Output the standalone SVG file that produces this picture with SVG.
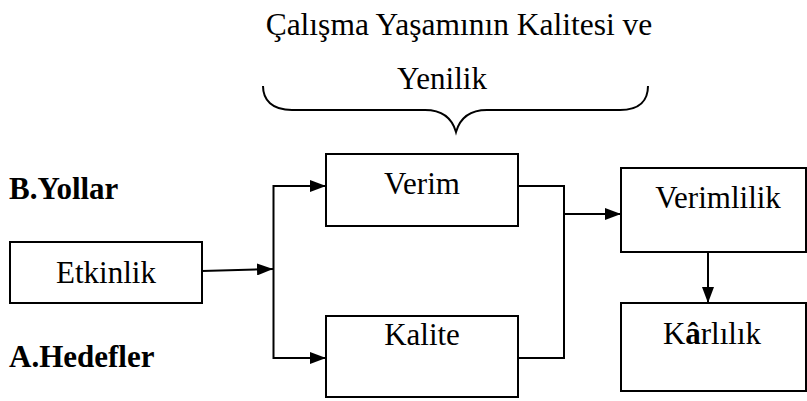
<svg xmlns="http://www.w3.org/2000/svg" width="807" height="401" viewBox="0 0 807 401">
<defs>
<style>
.box{fill:#fff;stroke:#000;stroke-width:2}
.ln{fill:none;stroke:#000;stroke-width:2}
.t{font-family:"Liberation Serif","Times New Roman",serif;font-size:31px;fill:#000}
.b{font-weight:bold}
</style>
<marker id="ah" markerWidth="16" markerHeight="12" refX="16" refY="6" orient="auto" markerUnits="userSpaceOnUse">
<path d="M0,0 L16,6 L0,12 Z" fill="#000"/>
</marker>
</defs>
<rect width="807" height="401" fill="#fff"/>
<g id="title">
<text class="t" x="459" y="35" text-anchor="middle" style="font-size:31.5px">Çalışma Yaşamının Kalitesi ve</text>
<text class="t" x="442" y="89" text-anchor="middle">Yenilik</text>
<path class="ln" d="M263,86 C263,100 272,110 292,110 L425,110 C442,110 452,118 456,132 C460,118 470,110 487,110 L620,110 C640,110 648,100 648,86"/>
</g>
<g id="labels">
<text class="t b" x="9" y="199">B.Yollar</text>
<text class="t b" x="9" y="367">A.Hedefler</text>
</g>
<g id="connectors">
<path class="ln" d="M202,271 L273,269" marker-end="url(#ah)"/>
<path class="ln" d="M326,186 L273.5,186 L273.5,358 L326,358"/>
<path class="ln" d="M290,186 L326,186" marker-end="url(#ah)"/>
<path class="ln" d="M290,358 L326,358" marker-end="url(#ah)"/>
<path class="ln" d="M518,186 L564,186 L564,358 L518,358"/>
<path class="ln" d="M564,214 L621,214" marker-end="url(#ah)"/>
<path class="ln" d="M708,252 L708,303" marker-end="url(#ah)"/>
</g>
<g id="etkinlik">
<rect class="box" x="10" y="242" width="192" height="61"/>
<text class="t" x="106" y="283" text-anchor="middle">Etkinlik</text>
</g>
<g id="verim">
<rect class="box" x="326" y="154" width="192" height="72"/>
<text class="t" x="422" y="194" text-anchor="middle">Verim</text>
</g>
<g id="kalite">
<rect class="box" x="326" y="316" width="192" height="81"/>
<text class="t" x="422" y="345" text-anchor="middle">Kalite</text>
</g>
<g id="verimlilik">
<rect class="box" x="621" y="168" width="185" height="84"/>
<text class="t" x="718" y="208" text-anchor="middle">Verimlilik</text>
</g>
<g id="karlilik">
<rect class="box" x="621" y="303" width="185" height="88"/>
<text class="t" x="712" y="344" text-anchor="middle">K<tspan class="b">â</tspan>rlılık</text>
</g>
</svg>
